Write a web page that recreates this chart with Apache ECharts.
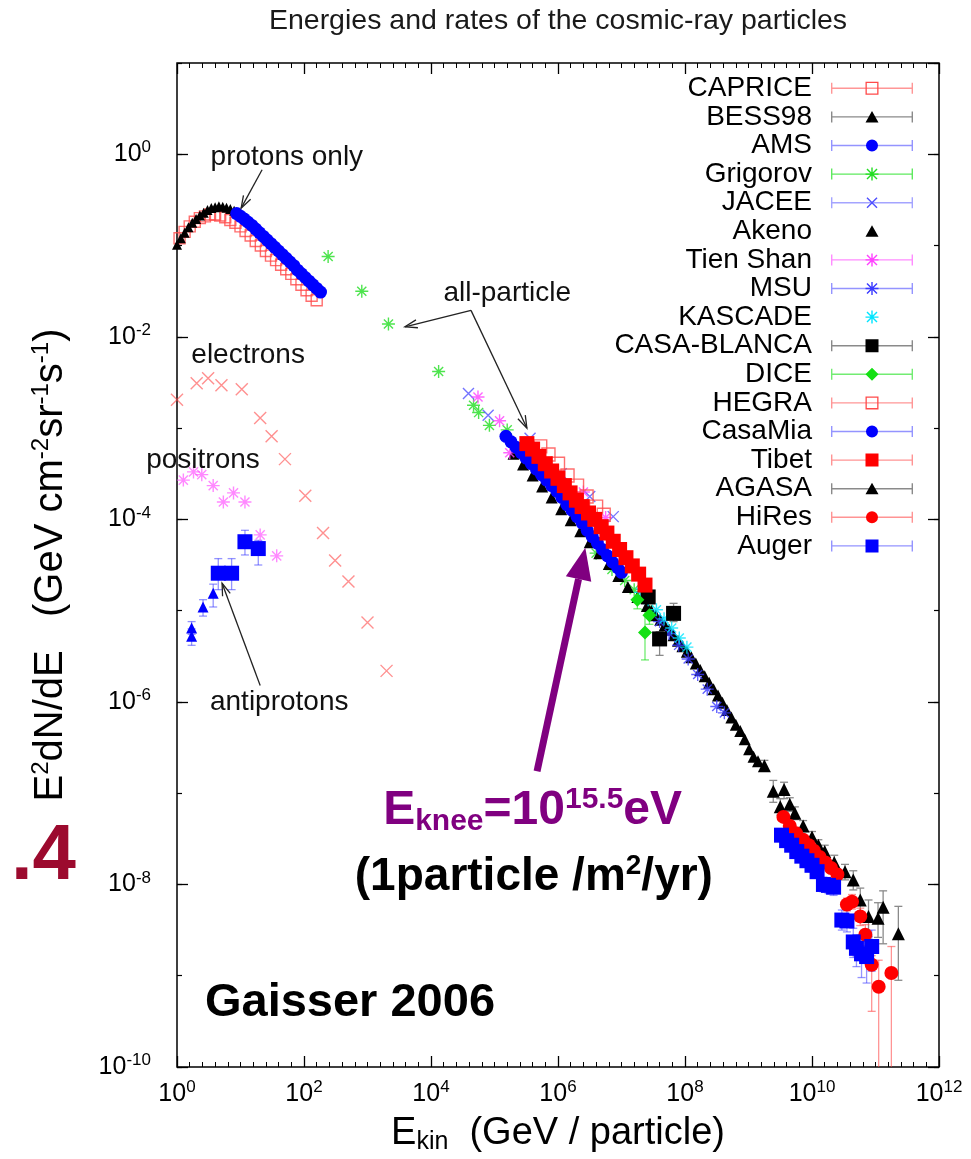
<!DOCTYPE html>
<html>
<head>
<meta charset="utf-8">
<title>Energies and rates of the cosmic-ray particles</title>
<script src="https://cdn.jsdelivr.net/npm/echarts/dist/echarts.min.js"></script>
<style>
  html, body { margin: 0; padding: 0; background: #fff; }
  #root { width: 971px; height: 1159px; }
</style>
</head>
<body>
<div id="root"></div>
<script>
// all values as [log10 E (GeV), log10 E^2dN/dE]
// rows with 4 entries carry an error bar: [logE, logF, low, high]
const caprice = [[0.04,-0.92],[0.12,-0.85],[0.20,-0.79],[0.28,-0.74],[0.36,-0.70],[0.44,-0.68],[0.52,-0.66],[0.60,-0.66],[0.68,-0.67],[0.76,-0.69],[0.84,-0.72],[0.92,-0.75],[1.00,-0.79],[1.08,-0.84],[1.16,-0.89],[1.24,-0.95],[1.32,-1.00],[1.40,-1.06],[1.48,-1.11],[1.56,-1.16],[1.64,-1.21],[1.72,-1.26],[1.80,-1.31],[1.88,-1.37],[1.96,-1.43],[2.04,-1.49],[2.12,-1.55],[2.20,-1.60]];
const bess98 = [[0.00,-0.99],[0.06,-0.92],[0.12,-0.86],[0.18,-0.80],[0.24,-0.75],[0.30,-0.71],[0.36,-0.67],[0.42,-0.64],[0.48,-0.61],[0.54,-0.59],[0.60,-0.58],[0.66,-0.57],[0.72,-0.575],[0.78,-0.585],[0.84,-0.60],[0.90,-0.62]];
const ams = [[0.94,-0.65],[1.00,-0.68],[1.06,-0.71],[1.12,-0.745],[1.18,-0.78],[1.24,-0.82],[1.30,-0.86],[1.36,-0.90],[1.42,-0.94],[1.48,-0.98],[1.54,-1.02],[1.60,-1.06],[1.66,-1.10],[1.72,-1.14],[1.78,-1.18],[1.84,-1.22],[1.90,-1.27],[1.96,-1.31],[2.02,-1.35],[2.08,-1.39],[2.14,-1.43],[2.20,-1.47],[2.26,-1.51]];
const grigorov = [[2.38,-1.12],[2.91,-1.50],[3.33,-1.86],[4.12,-2.38],[4.67,-2.75],[4.75,-2.83],[4.92,-2.97],[5.20,-3.02],[6.60,-4.37],[6.85,-4.55],[7.05,-4.67],[7.20,-4.77]];
const jacee = [[4.59,-2.62],[4.90,-2.86],[5.56,-3.11],[6.05,-3.50],[6.50,-3.75],[6.87,-3.97]];
const akeno = [[5.30,-3.28],[5.45,-3.40],[5.60,-3.52],[5.75,-3.64],[5.90,-3.76],[6.05,-3.89],[6.20,-4.01],[6.35,-4.13],[6.50,-4.25],[6.65,-4.37],[6.80,-4.49],[6.95,-4.62],[7.10,-4.74],[7.25,-4.85],[7.40,-4.95],[7.47,-5.00],[7.54,-5.05],[7.61,-5.10],[7.68,-5.16],[7.75,-5.21],[7.82,-5.27],[7.89,-5.33],[7.96,-5.39],[8.03,-5.45],[8.10,-5.51],[8.17,-5.58],[8.24,-5.65],[8.31,-5.72],[8.38,-5.79],[8.45,-5.86],[8.52,-5.93],[8.59,-6.01],[8.66,-6.09],[8.73,-6.17],[8.80,-6.25],[8.87,-6.32],[8.94,-6.41],[9.01,-6.52],[9.08,-6.60],[9.15,-6.65]];
const tienShan = [[4.74,-2.66],[5.08,-2.92],[5.24,-3.27],[6.40,-3.70],[6.75,-3.98]];
const msu = [[7.60,-5.12],[7.75,-5.25],[7.90,-5.38],[8.05,-5.53],[8.20,-5.70],[8.35,-5.86],[8.50,-6.05],[8.62,-6.12]];
const kascade = [[7.30,-4.80],[7.42,-4.88],[7.55,-4.99],[7.67,-5.09],[7.79,-5.19],[7.91,-5.30],[8.03,-5.40]];
const casaBlanca = [[7.42,-4.85,-4.92,-4.78],[7.60,-5.31,-5.49,-5.23],[7.82,-5.03,-5.12,-4.92]];
const dice = [[7.25,-4.88,-4.98,-4.80],[7.44,-5.05,-5.15,-4.95],[7.37,-5.24,-5.54,-4.99]];
const hegra = [[5.72,-3.20],[5.85,-3.29],[6.00,-3.39],[6.15,-3.52],[6.30,-3.63],[6.45,-3.75],[6.60,-3.86],[6.72,-3.95]];
const casaMia = [[5.18,-3.09],[5.26,-3.15],[5.34,-3.21],[5.42,-3.27],[5.50,-3.33],[5.58,-3.39],[5.66,-3.45],[5.74,-3.51],[5.82,-3.57],[5.90,-3.63],[5.98,-3.69],[6.06,-3.76],[6.14,-3.84],[6.22,-3.90],[6.30,-3.97],[6.38,-4.04],[6.46,-4.12],[6.54,-4.19],[6.62,-4.26],[6.70,-4.33],[6.78,-4.40],[6.86,-4.47],[6.94,-4.53],[7.00,-4.58]];
const tibet = [[5.51,-3.17],[5.60,-3.23],[5.70,-3.31],[5.80,-3.39],[5.90,-3.47],[6.00,-3.55],[6.10,-3.63],[6.19,-3.71],[6.29,-3.79],[6.38,-3.86],[6.48,-3.93],[6.58,-4.00],[6.68,-4.08],[6.77,-4.15],[6.87,-4.24],[6.97,-4.33],[7.07,-4.42],[7.17,-4.51],[7.27,-4.60],[7.37,-4.72]];
const agasa = [[9.25,-6.70,-6.75,-6.64],[9.39,-6.98,-7.10,-6.86],[9.50,-7.15,-7.24,-7.06],[9.56,-6.96,-7.06,-6.88],[9.65,-7.12,-7.20,-7.05],[9.73,-7.22,-7.29,-7.15],[9.86,-7.36,-7.42,-7.30],[10.00,-7.48,-7.54,-7.42],[10.10,-7.57,-7.63,-7.51],[10.20,-7.64,-7.71,-7.57],[10.35,-7.76,-7.84,-7.68],[10.52,-7.86,-7.95,-7.78],[10.65,-7.95,-8.06,-7.85],[10.76,-8.17,-8.39,-8.04],[10.89,-8.35,-8.57,-8.17],[11.04,-8.37,-8.58,-8.20],[11.12,-8.25,-8.65,-8.07],[11.36,-8.54,-9.05,-8.24]];
const hiRes = [[9.55,-7.26,-7.30,-7.22],[9.65,-7.36,-7.40,-7.32],[9.75,-7.44,-7.48,-7.40],[9.86,-7.51,-7.55,-7.47],[9.95,-7.57,-7.61,-7.53],[10.03,-7.63,-7.67,-7.59],[10.12,-7.70,-7.74,-7.66],[10.21,-7.76,-7.81,-7.71],[10.30,-7.82,-7.87,-7.77],[10.40,-7.89,-7.95,-7.83],[10.55,-8.22,-8.29,-8.15],[10.63,-8.19,-8.27,-8.11],[10.76,-8.35,-8.45,-8.26],[10.84,-8.55,-8.67,-8.44],[10.94,-8.88,-9.39,-8.78],[11.05,-9.12,-10.60,-8.83],[11.25,-8.97,-10.60,-8.68]];
const auger = [[9.52,-7.46,-7.52,-7.40],[9.60,-7.52,-7.58,-7.46],[9.68,-7.57,-7.63,-7.51],[9.76,-7.64,-7.70,-7.58],[9.84,-7.69,-7.75,-7.63],[9.92,-7.74,-7.80,-7.68],[10.00,-7.79,-7.86,-7.72],[10.08,-7.86,-7.93,-7.79],[10.18,-8.00,-8.08,-7.92],[10.26,-8.01,-8.10,-7.93],[10.34,-8.03,-8.12,-7.94],[10.47,-8.39,-8.50,-8.28],[10.55,-8.40,-8.52,-8.28],[10.65,-8.63,-8.80,-8.48],[10.70,-8.70,-8.90,-8.55],[10.78,-8.76,-9.02,-8.55],[10.86,-8.79,-9.08,-8.60],[10.94,-8.68,-8.95,-8.50]];
const electrons = [[0.00,-2.69],[0.31,-2.51],[0.49,-2.455],[0.70,-2.53],[1.02,-2.575],[1.31,-2.89],[1.49,-3.09],[1.70,-3.34],[2.02,-3.74],[2.30,-4.15],[2.49,-4.45],[2.70,-4.68],[3.00,-5.13],[3.30,-5.66]];
const positrons = [[0.10,-3.57],[0.26,-3.48],[0.39,-3.51],[0.57,-3.63],[0.73,-3.81],[0.89,-3.71],[1.07,-3.81],[1.31,-4.17],[1.57,-4.40]];
const pbarTriangles = [[0.23,-5.19,-5.26,-5.12],[0.23,-5.28,-5.38,-5.20],[0.41,-4.96,-5.06,-4.88],[0.57,-4.81,-4.96,-4.71]];
const pbarSquares = [[0.65,-4.59,-4.77,-4.43],[0.86,-4.59,-4.77,-4.43],[1.07,-4.245,-4.39,-4.12],[1.28,-4.32,-4.50,-4.23]];

const legendNames = ['CAPRICE','BESS98','AMS','Grigorov','JACEE','Akeno','Tien Shan','MSU','KASCADE','CASA-BLANCA','DICE','HEGRA','CasaMia','Tibet','AGASA','HiRes','Auger'];
const legendData = [caprice, bess98, ams, grigorov, jacee, akeno, tienShan, msu, kascade, casaBlanca, dice, hegra, casaMia, tibet, agasa, hiRes, auger];

// annotations, placed in data space
const notes = [
  { text: 'protons only', at: [1.73, -0.03] },
  { text: 'all-particle', at: [5.20, -1.52] },
  { text: 'electrons', at: [1.12, -2.20] },
  { text: 'positrons', at: [0.41, -3.35] },
  { text: 'antiprotons', at: [1.61, -6.00] }
];
const pointers = [
  { from: [1.34, -0.17], to: [1.01, -0.59] },
  { from: [4.63, -1.71], to: [3.59, -1.89] },
  { from: [4.63, -1.71], to: [5.51, -3.00] },
  { from: [1.31, -5.82], to: [0.71, -4.70] }
];
const kneeArrow = { from: [5.67, -6.76], to: [6.43, -4.31] };

const FONT = "'Liberation Sans', Arial, Helvetica, sans-serif";
const CROSS = 'path://M0,0L10,10M0,10L10,0';
const STAR = 'path://M0,5L10,5M5,0L5,10M1.5,1.5L8.5,8.5M1.5,8.5L8.5,1.5';

// legend icons, all in an 82x15 box so both legends line up
const ANCHOR = 'M0,0h0.01v0.01h-0.01zM81.99,14.99h0.01v0.01h-0.01z';
const ICONS = {
  bar: 'path://' + ANCHOR + 'M0,2h1.4v11h-1.4zM0,6.8h82v1.4h-82zM80.6,2h1.4v11h-1.4z',
  square: 'path://' + ANCHOR + 'M34.5,1h13v13h-13z',
  openSquare: 'path://' + ANCHOR + 'M34.5,1h13v13h-13zM35.8,2.3v10.4h10.4v-10.4z',
  circle: 'path://' + ANCHOR + 'M35,7.5a6,6 0 1,0 12,0a6,6 0 1,0 -12,0z',
  triangle: 'path://' + ANCHOR + 'M41,1.5L47.5,13L34.5,13z',
  diamond: 'path://' + ANCHOR + 'M41,1L47.5,7.5L41,14L34.5,7.5z',
  cross: 'path://' + ANCHOR + 'M35.5,3.0L36.5,2.0L46.5,12.0L45.5,13.0zM35.5,12.0L45.5,2.0L46.5,3.0L36.5,13.0z',
  star: 'path://' + ANCHOR + 'M40.3,1h1.4v13h-1.4zM34.5,6.8h13v1.4h-13zM35.5,3.0L36.5,2.0L46.5,12.0L45.5,13.0zM35.5,12.0L45.5,2.0L46.5,3.0L36.5,13.0z'
};

const styles = {
  'CAPRICE':     { symbol: 'rect', size: 11, color: '#ff4a4a', open: true, bar: 'rgba(255,80,80,0.6)', icon: 'openSquare' },
  'BESS98':      { symbol: 'triangle', size: 10, color: '#000', bar: '#8a8a8a', icon: 'triangle' },
  'AMS':         { symbol: 'circle', size: 13, color: '#0000ff', bar: 'rgba(60,60,255,0.55)', icon: 'circle' },
  'Grigorov':    { symbol: STAR, size: 13, color: '#22dd22', open: true, bar: 'rgba(40,225,40,0.75)', icon: 'star' },
  'JACEE':       { symbol: CROSS, size: 11, color: '#5050ff', open: true, bar: 'rgba(90,90,255,0.55)', icon: 'cross' },
  'Akeno':       { symbol: 'triangle', size: 12, color: '#000', bar: null, icon: 'triangle' },
  'Tien Shan':   { symbol: STAR, size: 13, color: '#ff40ff', open: true, bar: 'rgba(255,64,255,0.6)', icon: 'star' },
  'MSU':         { symbol: STAR, size: 13, color: '#3a3aff', open: true, bar: 'rgba(60,60,255,0.55)', icon: 'star' },
  'KASCADE':     { symbol: STAR, size: 13, color: '#00e5ff', open: true, bar: null, icon: 'star' },
  'CASA-BLANCA': { symbol: 'rect', size: 15, color: '#000', bar: '#8a8a8a', icon: 'square' },
  'DICE':        { symbol: 'diamond', size: 14, color: '#14e014', bar: 'rgba(20,224,20,0.6)', icon: 'diamond' },
  'HEGRA':       { symbol: 'rect', size: 13, color: '#ff4a4a', open: true, bar: 'rgba(255,80,80,0.6)', icon: 'openSquare' },
  'CasaMia':     { symbol: 'circle', size: 13, color: '#0000ff', bar: 'rgba(60,60,255,0.55)', icon: 'circle' },
  'Tibet':       { symbol: 'rect', size: 15, color: '#ff0000', bar: 'rgba(255,60,60,0.55)', icon: 'square' },
  'AGASA':       { symbol: 'triangle', size: 13, color: '#000', bar: '#8a8a8a', icon: 'triangle' },
  'HiRes':       { symbol: 'circle', size: 14, color: '#ff0000', bar: 'rgba(255,60,60,0.55)', icon: 'circle' },
  'Auger':       { symbol: 'rect', size: 15, color: '#0000ff', bar: 'rgba(60,60,255,0.55)', icon: 'square' },
  'electrons':   { symbol: CROSS, size: 12, color: 'rgba(255,70,70,0.75)', open: true },
  'positrons':   { symbol: STAR, size: 13, color: 'rgba(255,70,255,0.8)', open: true },
  'pbarT':       { symbol: 'triangle', size: 11, color: '#0000ff', bar: 'rgba(60,60,255,0.55)' },
  'pbarS':       { symbol: 'rect', size: 15, color: '#0000ff', bar: 'rgba(60,60,255,0.55)' }
};

function markerSeries(name, rows, st) {
  return {
    type: 'scatter',
    name: name,
    data: rows.map(r => [r[0], r[1]]),
    symbol: st.symbol,
    symbolSize: st.size,
    itemStyle: st.open
      ? { color: 'rgba(0,0,0,0)', borderColor: st.color, borderWidth: 1.4 }
      : { color: st.color, opacity: 1 },
    silent: true,
    z: 3
  };
}

function errorSeries(name, rows, color) {
  return {
    type: 'custom',
    name: name,
    clip: true,
    silent: true,
    z: 2,
    data: rows.map(r => [r[0], r[2], r[3]]),
    renderItem: function (params, api) {
      const lo = api.coord([api.value(0), api.value(1)]);
      const hi = api.coord([api.value(0), api.value(2)]);
      const w = 4;
      const st = { stroke: color, lineWidth: 1.3 };
      return {
        type: 'group',
        children: [
          { type: 'line', shape: { x1: lo[0], y1: lo[1], x2: hi[0], y2: hi[1] }, style: st },
          { type: 'line', shape: { x1: lo[0] - w, y1: lo[1], x2: lo[0] + w, y2: lo[1] }, style: st },
          { type: 'line', shape: { x1: hi[0] - w, y1: hi[1], x2: hi[0] + w, y2: hi[1] }, style: st }
        ]
      };
    }
  };
}

const series = [];
function addSet(name, rows, st) {
  if (rows[0].length === 4 && st.bar) series.push(errorSeries(name, rows, st.bar));
  series.push(markerSeries(name, rows, st));
}
addSet('electrons', electrons, styles['electrons']);
addSet('positrons', positrons, styles['positrons']);
addSet('antiprotons', pbarTriangles, styles['pbarT']);
addSet('antiprotons ', pbarSquares, styles['pbarS']);
legendNames.forEach((n, i) => addSet(n, legendData[i], styles[n]));

const tickRich = {
  b: { fontSize: 25, lineHeight: 30, color: '#000', fontFamily: FONT },
  s: { fontSize: 17, lineHeight: 12, verticalAlign: 'top', color: '#000', fontFamily: FONT }
};
const tickFmt = v => '{b|10}{s|' + v + '}';
const xNameRich = {
  m: { fontSize: 38, lineHeight: 42, color: '#000', fontFamily: FONT },
  d: { fontSize: 25, lineHeight: 20, verticalAlign: 'bottom', color: '#000', fontFamily: FONT }
};
const yNameRich = {
  m: { fontSize: 40, lineHeight: 44, color: '#000', fontFamily: FONT },
  p: { fontSize: 24, lineHeight: 16, verticalAlign: 'top', color: '#000', fontFamily: FONT }
};

const majorTick = { inside: true, length: 11, lineStyle: { color: '#000', width: 1.3 } };
const minorTickY = { inside: true, length: 5, lineStyle: { color: '#000', width: 1.2 } };
const xMinor = { show: true, splitNumber: 10, length: 5, lineStyle: { color: '#000', width: 1 } };

function xAxisAt(pos, withLabels) {
  return {
    type: 'value', position: pos, min: 0, max: 12, interval: 2,
    axisLine: { show: false, onZero: false }, splitLine: { show: false },
    axisTick: majorTick, minorTick: xMinor,
    axisLabel: withLabels ? { margin: 12, formatter: tickFmt, rich: tickRich } : { show: false },
    name: withLabels ? '{m|E}{d|kin}{m|  (GeV / particle)}' : '',
    nameLocation: 'middle', nameGap: 46,
    nameTextStyle: { rich: xNameRich }
  };
}
function yAxisAt(pos, interval, tick, withLabels) {
  return {
    type: 'value', position: pos, min: -10, max: 1, interval: interval,
    axisLine: { show: false, onZero: false }, splitLine: { show: false },
    axisTick: tick,
    axisLabel: withLabels ? { margin: 26, formatter: tickFmt, rich: tickRich, showMaxLabel: false } : { show: false },
    name: withLabels ? '{m|E}{p|2}{m|dN/dE   (GeV cm}{p|-2}{m|sr}{p|-1}{m|s}{p|-1}{m|)}' : '',
    nameLocation: 'middle', nameRotate: 90, nameGap: 104,
    nameTextStyle: { rich: yNameRich }
  };
}

const legendCommon = {
  orient: 'vertical', align: 'right', right: 58, top: 74, padding: 0,
  itemWidth: 82, itemHeight: 15, itemGap: 0, symbolKeepAspect: true
};

const option = {
  animation: false,
  textStyle: { fontFamily: FONT },
  title: {
    text: 'Energies and rates of the cosmic-ray particles',
    left: 558, top: 7, textAlign: 'center', padding: 0,
    textStyle: { fontSize: 28.5, fontWeight: 'normal', color: '#1a1a1a', fontFamily: FONT }
  },
  grid: {
    left: 177, right: 32, top: 63, bottom: 92,
    show: true, borderColor: '#000', borderWidth: 1.5,
    outerBoundsMode: 'none'
  },
  legend: [
    Object.assign({}, legendCommon, {
      selectedMode: false,
      formatter: () => ' ',
      textStyle: { fontSize: 28, lineHeight: 28.6 },
      data: legendNames.map(n => ({
        name: n, icon: ICONS.bar,
        itemStyle: { color: styles[n].bar || 'rgba(0,0,0,0)', borderWidth: 0, opacity: 1 }
      }))
    }),
    Object.assign({}, legendCommon, {
      textStyle: { fontSize: 28, lineHeight: 28.6, color: '#000', fontFamily: FONT, padding: [0, 14, 0, 0] },
      data: legendNames.map(n => ({
        name: n, icon: ICONS[styles[n].icon],
        itemStyle: { color: styles[n].color, borderWidth: 0, opacity: 1 }
      }))
    })
  ],
  xAxis: [xAxisAt('bottom', true), xAxisAt('top', false)],
  yAxis: [
    yAxisAt('left', 2, majorTick, true),
    yAxisAt('left', 1, minorTickY, false),
    yAxisAt('right', 2, majorTick, false),
    yAxisAt('right', 1, minorTickY, false)
  ],
  series: series
};

const chart = echarts.init(document.getElementById('root'));
chart.setOption(option);

// annotations in data space -> pixels
const px = p => chart.convertToPixel({ xAxisIndex: 0, yAxisIndex: 0 }, p);
function headPoints(tip, from, len, spread) {
  const ang = Math.atan2(tip[1] - from[1], tip[0] - from[0]);
  return [
    [tip[0] + len * Math.cos(ang + Math.PI - spread), tip[1] + len * Math.sin(ang + Math.PI - spread)],
    tip,
    [tip[0] + len * Math.cos(ang + Math.PI + spread), tip[1] + len * Math.sin(ang + Math.PI + spread)]
  ];
}

const graphics = [];
notes.forEach(n => {
  const p = px(n.at);
  graphics.push({
    type: 'text', x: p[0], y: p[1], z: 20,
    style: { text: n.text, fontSize: 28, fontFamily: FONT, fill: '#111', align: 'center', verticalAlign: 'middle' }
  });
});
pointers.forEach(a => {
  const f = px(a.from), t = px(a.to);
  graphics.push({ type: 'line', z: 20, shape: { x1: f[0], y1: f[1], x2: t[0], y2: t[1] }, style: { stroke: '#222', lineWidth: 1.3 } });
  graphics.push({ type: 'polyline', z: 20, shape: { points: headPoints(t, f, 13, 0.32) }, style: { stroke: '#222', fill: null, lineWidth: 1.3 } });
});

// purple knee arrow
(function () {
  const f = px(kneeArrow.from), t = px(kneeArrow.to);
  const ang = Math.atan2(t[1] - f[1], t[0] - f[0]);
  const headLen = 32, half = 13;
  const base = [t[0] - headLen * Math.cos(ang), t[1] - headLen * Math.sin(ang)];
  const nx = -Math.sin(ang), ny = Math.cos(ang);
  graphics.push({ type: 'line', z: 20, shape: { x1: f[0], y1: f[1], x2: base[0], y2: base[1] }, style: { stroke: '#800080', lineWidth: 7 } });
  graphics.push({
    type: 'polygon', z: 20,
    shape: { points: [t, [base[0] + nx * half, base[1] + ny * half], [base[0] - nx * half, base[1] - ny * half]] },
    style: { fill: '#800080' }
  });
})();

const kneePos = px([5.60, -7.19]);
graphics.push({
  type: 'text', x: kneePos[0], y: kneePos[1], z: 20,
  style: {
    text: '{E|E}{k|knee}{E|=10}{s|15.5}{E|eV}',
    align: 'center', verticalAlign: 'middle',
    rich: {
      E: { fontSize: 48, fontWeight: 'bold', fontFamily: FONT, fill: '#800080', lineHeight: 52 },
      k: { fontSize: 30, fontWeight: 'bold', fontFamily: FONT, fill: '#800080', lineHeight: 20, verticalAlign: 'bottom' },
      s: { fontSize: 30, fontWeight: 'bold', fontFamily: FONT, fill: '#800080', lineHeight: 36, verticalAlign: 'top' }
    }
  }
});
const ratePos = px([5.62, -7.92]);
graphics.push({
  type: 'text', x: ratePos[0], y: ratePos[1], z: 20,
  style: {
    text: '{t|(1particle /m}{p|2}{t|/yr)}',
    align: 'center', verticalAlign: 'middle',
    rich: {
      t: { fontSize: 46, fontWeight: 'bold', fontFamily: FONT, fill: '#000', lineHeight: 50 },
      p: { fontSize: 28, fontWeight: 'bold', fontFamily: FONT, fill: '#000', lineHeight: 30, verticalAlign: 'top' }
    }
  }
});
const gaisserPos = px([0.44, -9.30]);
graphics.push({
  type: 'text', x: gaisserPos[0], y: gaisserPos[1], z: 20,
  style: { text: 'Gaisser 2006', fontSize: 47, fontWeight: 'bold', fontFamily: FONT, fill: '#000', align: 'left', verticalAlign: 'middle' }
});
graphics.push({
  type: 'text', x: 76, y: 857, z: 20,
  style: { text: '.4', fontSize: 78, fontWeight: 'bold', fontFamily: FONT, fill: '#9c0a2e', align: 'right', verticalAlign: 'middle' }
});

chart.setOption({ graphic: graphics });
</script>
</body>
</html>
